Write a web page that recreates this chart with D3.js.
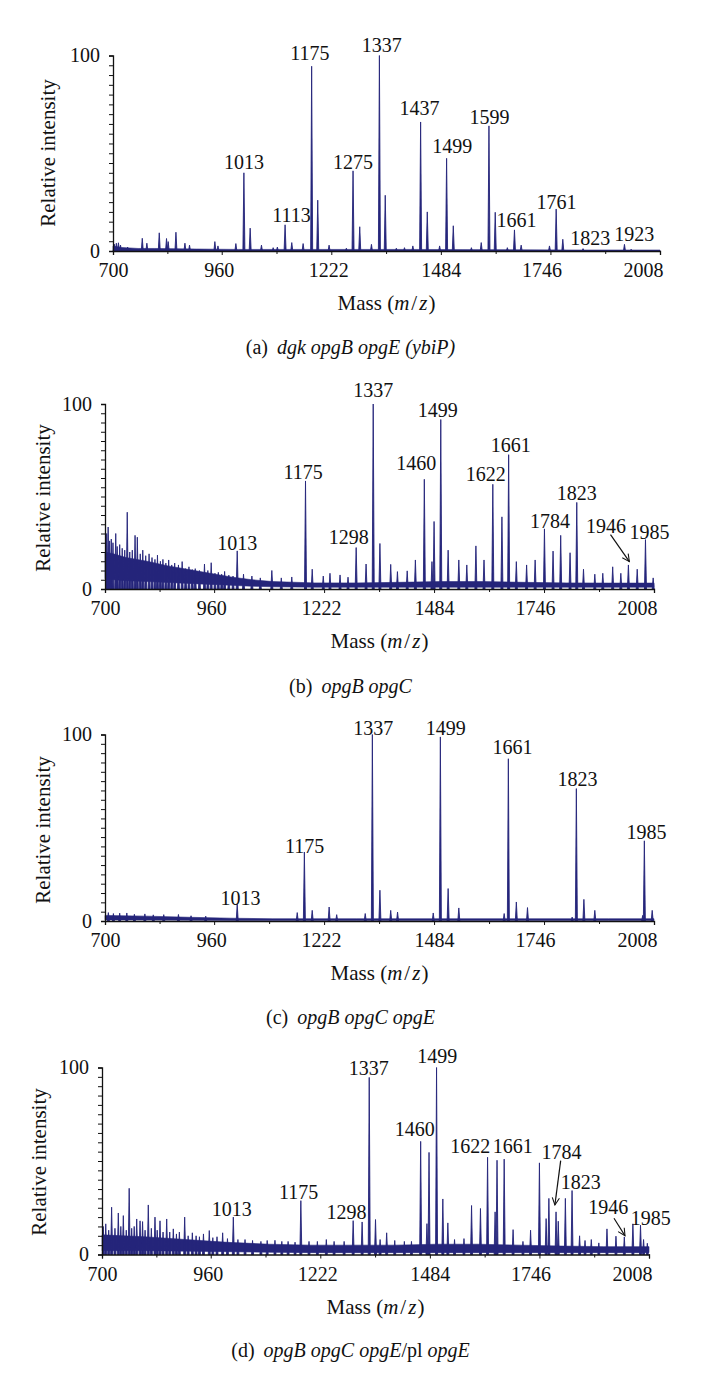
<!DOCTYPE html>
<html><head><meta charset="utf-8">
<script src="https://cdn.jsdelivr.net/npm/d3@7"></script>
<style>
body{margin:0;background:#fff}
svg{display:block}
svg text{font-family:"Liberation Serif","DejaVu Serif",serif !important;fill:#111}
</style>
</head><body>
<svg id="chart" width="701" height="1376" font-family="Liberation Serif"></svg>
<script>
// ---------- shared axis data ----------
const massTicks = [700, 960, 1222, 1484, 1746, 2008];
const massMinorTicks = [830, 1091, 1353, 1615, 1877];
const intensityTicks = [0,5,10,15,20,25,30,35,40,45,50,55,60,65,70,75,80,85,90,95,100];
const intensityLabels = [0, 100];

// ---------- panel (a) dgk opgB opgE (ybiP) ----------
const aPeakMz  = [703,708,713,718,735,770,781,810.6,828,832,850.5,872,883,943.6,951,993.8,1013,1028,1055,1083,1093,1111.5,1127.5,1154.6,1175,1189.6,1216.7,1258,1274,1290,1318,1337,1351,1377.5,1397,1417,1435.6,1451.5,1481,1497.7,1513.7,1557,1580.5,1599,1614,1643,1660,1676,1743.7,1759.7,1775.6,1824,1923,1939];
const aPeakInt = [3.5,4,4.2,3,2,6.5,4,9.3,6.4,4.8,9.6,4,3,4.8,2.6,3.8,40,11.7,3,1.7,2,13.4,4.3,3.8,94.5,26,3,1.4,41,12.4,3.4,100,28.5,1.4,1.7,2.6,66,20,2.6,47.4,12.9,1.7,4.3,64,19.8,1.7,10.8,3,2.6,21.5,6,1.2,3.4,0.9];
const aNoiseMz   = [700,720,760,800,900,1000,1200,1400,1600,1800,2008];
const aNoiseLow  = [0,0,0,0,0,0,0,0,0,0,0];
const aNoiseHigh = [2.5,1.8,1.3,1.3,1,0.8,0.8,0.8,0.7,0.5,0.5];
const aLabelText = ["1013","1113","1175","1275","1337","1437","1499","1599","1661","1761","1823","1923"];
const aLabelMz   = [1013,1126.8,1170.5,1274,1342.5,1433,1511,1600,1665,1760.4,1841,1946.7];
const aLabelInt  = [45.3,18.5,101.5,45.3,105.6,73.2,53.5,68.7,15.9,25.3,6.7,8.7];

// ---------- panel (b) opgB opgC ----------
const bPeakMz  = [704,707.5,711,715,719,725.6,729,735,741,747,753,759,765,771.6,777,784,790,797,805,812,819,825,832,838,845,851.7,859,866,875,883.8,892,900,908,915,925,937,945,953,962,970,978,985,995,1005,1015,1030,1050,1070,1097.5,1120,1145,1177.7,1193.7,1220,1236,1260,1279,1298.4,1322,1339,1355,1380.7,1396.7,1420,1439.5,1460.8,1479,1484,1500,1517.5,1543,1562,1583.7,1603,1624,1645.7,1661.7,1680,1704.5,1724.8,1747,1767.5,1785.7,1808,1824,1840,1867,1886,1909.6,1929,1947,1968,1987.7,2006];
const bPeakInt = [30,33.5,26,27,25,30,23,24,22,21,41.5,20,21,29,28,19,21,18,19,17,16,18.3,15,16,14,15.7,13,14,13,14.8,11,12,10.5,11,10,13.5,10,14.2,8.5,9,8,9.5,7.5,7,20.6,8,7,6,10,6,6.5,58.4,10.7,7,8.5,7.6,6.4,22.4,13.5,100,24.6,13.3,9.4,9.8,15.7,59.3,14.8,36.5,91.6,21,15.7,13,23.3,15.7,56.6,39,72.6,14.8,13,15.7,32.5,20.5,29,19.6,46.8,10.7,8,8.5,12,8.5,13,10.7,26.7,6];
const bNoiseMz   = [700,720,750,800,850,900,950,1000,1050,1100,1200,1300,1400,1500,1600,1700,1800,1900,2008];
const bNoiseLow  = [5.5,5,4.5,4,3.5,3,2.5,2,1.5,1.2,1,1,1,1,1,1,1,1,1];
const bNoiseHigh = [20,19,17,15,12.5,10.5,8.5,6.5,5,4,3.3,3.3,3.6,4,4,3.6,3.3,3.2,3.2];
const bLabelText = ["1013","1175","1298","1337","1460","1499","1622","1661","1784","1823","1946","1985"];
const bLabelMz   = [1015,1172,1281,1339,1441.6,1493,1607,1667,1760,1824,1893.6,1997];
const bLabelInt  = [24.6,63.2,28.1,107.3,68.1,97,62.3,77.6,37,52.1,34,30.8];
const bArrowFromMz = [1904.4], bArrowFromInt = [29.4], bArrowToMz = [1949.3], bArrowToInt = [14.8];

// ---------- panel (c) opgB opgC opgE ----------
const cPeakMz  = [708,720,735,752,770,795,815,840,875,905,940,1015,1158,1175,1193.7,1234,1252,1320,1337,1355,1380.7,1397,1482,1499,1517.5,1543,1651,1661,1680,1706.6,1813,1823,1841,1867,1981,1985,2003.7];
const cPeakInt = [4.5,4,4.2,4.3,3.6,3.8,3.3,3.4,3.5,2.8,2.6,9,4.5,37,5.7,7.5,3.4,4,100,16.5,5.7,4.8,4.3,98.7,17.4,7,4,87,10.2,7.2,2.1,71,11.6,5.7,3,43,5.7];
const cNoiseMz   = [700,800,900,1000,1100,1300,1500,1700,1900,2008];
const cNoiseLow  = [0.6,0.5,0.4,0.3,0.3,0.3,0.3,0.3,0.3,0.3];
const cNoiseHigh = [3,2.6,2,1.5,1.2,1.2,1.2,1.2,1.2,1.2];
const cLabelText = ["1013","1175","1337","1499","1661","1823","1985"];
const cLabelMz   = [1022.7,1175.5,1339,1512,1671,1826,1990];
const cLabelInt  = [12.5,40.2,103.6,103.6,93.4,76.4,47.8];

// ---------- panel (d) opgB opgC opgE/pl opgE ----------
const dPeakMz  = [703,709,716,723,731,739,745,751,758,765,771,777,783,791,797,803,810.7,818,826.7,832,838.7,846,854.7,862,870.5,878,885,897.7,906,916,925,933,942.6,956.5,965,975,988.5,1000,1014,1025,1042,1060,1080,1095,1113.6,1130,1145,1161.6,1175.5,1195,1215,1236.4,1255,1279,1300.6,1322,1339,1354,1365,1380.7,1400,1423,1440,1462,1477,1482,1500,1515,1527,1543,1565.6,1583.7,1605,1622,1640,1644.6,1661.7,1683,1706.6,1724.8,1746,1762,1768.6,1785.7,1791,1808,1824,1842,1855,1870,1888,1907.5,1929,1949,1969.5,1987.7,1995,2004];
const dPeakInt = [15,16.4,13,25.3,14,22.2,15,20.8,13,35.4,14,15,19,18,17.6,13,26.5,14,20,13,18,12,19,12,13.7,11,12,20,10,11.6,10,9.5,11,12.8,9,9.5,11.6,8.5,20,8,8,7.5,7,7.5,7.6,7,7,6.6,28.8,7,7,8,7,7,18.1,17.4,94.7,18.7,8,11.6,7.5,7,7,60.5,16.5,54.6,100,29.7,16.9,8,8.5,26.2,24.6,52,22.8,50.4,51,13.3,7,13,49,19.2,30,22.8,17.8,30,34.2,10,7.5,8,6.2,13.7,9.8,9.4,16.4,15.7,8,6];
const dNoiseMz   = [700,800,900,1000,1100,1200,1300,1400,1500,1600,1700,1800,1900,2008];
const dNoiseLow  = [2,2,1.8,1.5,1.2,1,1,1,1,1,1,1,1,1];
const dNoiseHigh = [10.5,9.5,8,6.5,5.5,5,5,5,5.5,5.5,5,4.5,4.2,4.2];
const dLabelText = ["1013","1175","1298","1337","1460","1499","1622","1661","1784","1823","1946","1985"];
const dLabelMz   = [1010,1170,1284.5,1338,1448,1501.5,1580.6,1682,1799,1844.5,1910.7,2012];
const dLabelInt  = [24.4,33.3,22.6,99.6,67,106,57.8,57.8,55,39,25.6,19.4];
const dArrowFromMz = [1796.8,1924.3], dArrowFromInt = [50.2,19.4], dArrowToMz = [1783,1950.6], dArrowToInt = [26.5,10];

// ---------- captions ----------
const captionA = [["(a)",false],["dgk opgB opgE (ybiP)",true]];
const captionB = [["(b)",false],["opgB opgC",true]];
const captionC = [["(c)",false],["opgB opgC opgE",true]];
const captionD = [["(d)",false],["opgB opgC opgE",true],["/pl ",false],["opgE",true]];

// ---------- layout ----------
const COLOR = "#25257a";
const FONT = "'Liberation Serif','DejaVu Serif',serif";
const panels = [
  {peakMz:aPeakMz, peakInt:aPeakInt, nMz:aNoiseMz, nLo:aNoiseLow, nHi:aNoiseHigh, lt:aLabelText, lm:aLabelMz, li:aLabelInt, arrows:null, caption:captionA,
   x0:113, x1:660, yTop:55.5, yBase:251, ylx:48, yly:153, capY:354},
  {peakMz:bPeakMz, peakInt:bPeakInt, nMz:bNoiseMz, nLo:bNoiseLow, nHi:bNoiseHigh, lt:bLabelText, lm:bLabelMz, li:bLabelInt,
   arrows:[bArrowFromMz,bArrowFromInt,bArrowToMz,bArrowToInt], caption:captionB,
   x0:105, x1:654, yTop:404, yBase:589, ylx:43, yly:498, capY:693},
  {peakMz:cPeakMz, peakInt:cPeakInt, nMz:cNoiseMz, nLo:cNoiseLow, nHi:cNoiseHigh, lt:cLabelText, lm:cLabelMz, li:cLabelInt, arrows:null, caption:captionC,
   x0:105, x1:654, yTop:734.5, yBase:921, ylx:43, yly:830, capY:1024},
  {peakMz:dPeakMz, peakInt:dPeakInt, nMz:dNoiseMz, nLo:dNoiseLow, nHi:dNoiseHigh, lt:dLabelText, lm:dLabelMz, li:dLabelInt,
   arrows:[dArrowFromMz,dArrowFromInt,dArrowToMz,dArrowToInt], caption:captionD,
   x0:102, x1:649, yTop:1067.5, yBase:1254.5, ylx:39, yly:1162, capY:1357}
];

const svg = d3.select("#chart");
svg.append("defs").append("marker")
  .attr("id","arrow").attr("viewBox","0 0 10 10").attr("refX",9).attr("refY",5)
  .attr("markerWidth",9).attr("markerHeight",9).attr("orient","auto").attr("markerUnits","userSpaceOnUse")
  .append("path").attr("d","M1,1 L9,5 L1,9").attr("fill","none").attr("stroke","#111").attr("stroke-width",1.2);

panels.forEach(p => {
  const x = d3.scaleLinear().domain([700, 2008]).range([p.x0, p.x1]);
  const y = d3.scaleLinear().domain([0, 100]).range([p.yBase, p.yTop]);
  const g = svg.append("g");

  // noise band
  const band = p.nMz.map((m,i)=>({m, lo:p.nLo[i], hi:p.nHi[i]}));
  g.append("path").datum(band)
    .attr("d", d3.area().x(d=>x(d.m)).y0(d=>y(d.lo)).y1(d=>y(d.hi)))
    .attr("fill", COLOR).attr("stroke", COLOR).attr("stroke-width", 0.6);

  // peaks
  const peaks = p.peakMz.map((m,i)=>({m, h:p.peakInt[i]}));
  g.append("g").selectAll("path").data(peaks).join("path")
    .attr("d", d => {
      const cx = x(d.m), base = y(0), top = y(d.h);
      return `M${cx-1},${base}L${cx},${top}L${cx+1},${base}Z`;
    })
    .attr("fill", COLOR).attr("stroke", COLOR).attr("stroke-width", 0.9).attr("stroke-linejoin","miter");

  // axes
  const yAxis = d3.axisLeft(y).tickValues(intensityTicks).tickSize(4).tickPadding(9)
    .tickFormat(d => intensityLabels.includes(d) ? d : "");
  const ga = g.append("g").attr("transform", `translate(${p.x0},0)`).call(yAxis).attr("font-family", FONT);
  ga.select(".domain").attr("stroke","#111").attr("stroke-width",1.3);
  ga.selectAll(".tick line").attr("stroke","#111");
  ga.selectAll("text").attr("font-size",20).attr("fill","#111");

  const xAxis = d3.axisBottom(x).tickValues(massTicks).tickSize(4).tickPadding(8).tickFormat(d=>d);
  const gx = g.append("g").attr("transform", `translate(0,${p.yBase})`).call(xAxis).attr("font-family", FONT);
  gx.select(".domain").attr("stroke","#111").attr("stroke-width",1.3);
  gx.selectAll(".tick line").attr("stroke","#111");
  gx.selectAll("text").attr("font-size",20).attr("fill","#111")
    .attr("dx", d => d === 2008 ? -17 : (d === 1746 ? -9 : (d === 960 || d === 1222 ? -3 : 0)));
  const xMinor = d3.axisBottom(x).tickValues(massMinorTicks).tickSize(3).tickFormat("");
  const gm = g.append("g").attr("transform", `translate(0,${p.yBase})`).call(xMinor);
  gm.select(".domain").remove();
  gm.selectAll(".tick line").attr("stroke","#111");

  // peak labels
  g.append("g").attr("font-family", FONT).selectAll("text").data(p.lt).join("text")
    .attr("x", (t,i)=>x(p.lm[i])).attr("y", (t,i)=>y(p.li[i])).attr("dy","0.35em")
    .attr("text-anchor","middle").attr("font-size",20).text(t=>t);

  // arrows
  if (p.arrows) {
    const [fm, fi, tm, ti] = p.arrows;
    g.append("g").selectAll("line").data(fm).join("line")
      .attr("x1",(d,i)=>x(fm[i])).attr("y1",(d,i)=>y(fi[i]))
      .attr("x2",(d,i)=>x(tm[i])).attr("y2",(d,i)=>y(ti[i]))
      .attr("stroke","#111").attr("stroke-width",1.2).attr("marker-end","url(#arrow)");
  }

  // y label
  g.append("text").attr("transform", `translate(${p.ylx},${p.yly}) rotate(-90)`).attr("font-family", FONT)
    .attr("text-anchor","middle").attr("dy","0.35em").attr("font-size",21).text("Relative intensity");

  // x label
  const xl = g.append("text").attr("x", (p.x0+p.x1)/2).attr("y", p.yBase+59).attr("font-family", FONT)
    .attr("text-anchor","middle").attr("font-size",21);
  xl.append("tspan").text("Mass (");
  xl.append("tspan").style("font-style","italic").text("m");
  xl.append("tspan").attr("dx",2).text("/");
  xl.append("tspan").attr("dx",2).style("font-style","italic").text("z");
  xl.append("tspan").attr("dx",1).text(")");

  // caption
  const cap = svg.append("text").attr("x", 350.5).attr("y", p.capY).attr("font-family", FONT)
    .attr("text-anchor","middle").attr("font-size",20);
  p.caption.forEach((c,i) => {
    cap.append("tspan").attr("dx", i===1 ? 9 : 0)
      .style("font-style", c[1] ? "italic" : "normal").text(c[0]);
  });
});
</script>
</body></html>
